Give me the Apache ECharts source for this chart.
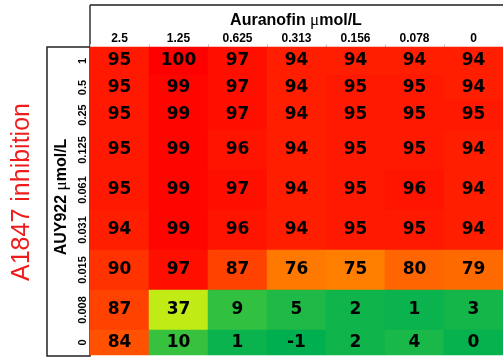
<!DOCTYPE html>
<html>
<head>
<meta charset="utf-8">
<script src="https://cdn.jsdelivr.net/npm/echarts@6/dist/echarts.min.js"></script>
<style>html,body{margin:0;padding:0;background:#fff}#c{width:503px;height:360px}</style>
</head>
<body>
<div id="c"></div>
<script>
// ---- data ----
const colLabels = ['2.5', '1.25', '0.625', '0.313', '0.156', '0.078', '0'];
const rowLabels = ['1', '0.5', '0.25', '0.125', '0.061', '0.031', '0.015', '0.008', '0'];
const row_1     = [95, 100, 97, 94, 94, 94, 94];
const row_0_5   = [95, 99, 97, 94, 95, 95, 94];
const row_0_25  = [95, 99, 97, 94, 95, 95, 95];
const row_0_125 = [95, 99, 96, 94, 95, 95, 94];
const row_0_061 = [95, 99, 97, 94, 95, 96, 94];
const row_0_031 = [94, 99, 96, 94, 95, 95, 94];
const row_0_015 = [90, 97, 87, 76, 75, 80, 79];
const row_0_008 = [87, 37, 9, 5, 2, 1, 3];
const row_0     = [84, 10, 1, -1, 2, 4, 0];
const rows = [row_1, row_0_5, row_0_25, row_0_125, row_0_061, row_0_031, row_0_015, row_0_008, row_0];

// ---- layout (row band heights of the original table) ----
const tableTop = 47;
const rowHeights = [28, 25, 30, 40, 40, 40, 40, 40, 25];

const chart = echarts.init(document.getElementById('c'));
const grids = [], xAxes = [], yAxes = [], seriesList = [];
let bandTop = tableTop;
rows.forEach((row, i) => {
  grids.push({ left: 90, right: -7, top: bandTop, height: rowHeights[i] });
  bandTop += rowHeights[i];
  xAxes.push({
    gridIndex: i, type: 'category', data: colLabels, position: 'top',
    show: i === 0,
    axisLine: { show: false },
    axisTick: { show: true, length: 3, lineStyle: { color: '#ccc' } },
    axisLabel: { margin: 2, fontFamily: 'Liberation Sans', fontWeight: 'bold', fontSize: 12, color: '#000' },
    splitLine: { show: false }
  });
  yAxes.push({
    gridIndex: i, type: 'category', data: [rowLabels[i]],
    axisLine: { show: false }, axisTick: { show: false },
    axisLabel: { rotate: 90, margin: 2, fontFamily: 'Liberation Sans', fontWeight: 'bold', fontSize: 11, color: '#000' },
    splitLine: { show: false }
  });
  seriesList.push({
    type: 'heatmap', xAxisIndex: i, yAxisIndex: i,
    data: row.map((v, j) => [j, 0, v]),
    label: { show: true, fontFamily: 'DejaVu Sans', fontWeight: 'bold', fontSize: 17, color: '#000',
             formatter: p => String(p.value[2]) },
    itemStyle: { borderWidth: 0 },
    emphasis: { disabled: true }
  });
});

chart.setOption({
  animation: false,
  backgroundColor: '#fff',
  grid: grids, xAxis: xAxes, yAxis: yAxes, series: seriesList,
  visualMap: {
    type: 'continuous', show: false, min: -1, max: 100, dimension: 2,
    seriesIndex: rows.map((r, i) => i),
    inRange: { color: ['#00B050', '#FFFF00', '#FF0000'] }
  },
  graphic: [
    { type: 'line', shape: { x1: 90, y1: 5, x2: 503, y2: 5 }, style: { stroke: '#555', lineWidth: 2 } },
    { type: 'line', shape: { x1: 90, y1: 5, x2: 90, y2: 47 }, style: { stroke: '#333', lineWidth: 1.5 } },
    { type: 'rect', shape: { x: 47, y: 47, width: 43, height: 309 }, style: { fill: 'none', stroke: '#222', lineWidth: 1.5 } },
    { type: 'text', x: 296, y: 21, style: {
        text: '{b|Auranofin }{m|μ}{b|mol/L}', align: 'center', verticalAlign: 'middle',
        rich: { b: { fontFamily: 'Liberation Sans', fontWeight: 'bold', fontSize: 16, fill: '#000' },
                m: { fontFamily: 'Liberation Serif', fontSize: 17, fill: '#000' } } } },
    { type: 'text', x: 62, y: 197, rotation: Math.PI / 2, style: {
        text: '{b|AUY922 }{m|μ}{b|mol/L}', align: 'center', verticalAlign: 'middle',
        rich: { b: { fontFamily: 'Liberation Sans', fontWeight: 'bold', fontSize: 16, fill: '#000' },
                m: { fontFamily: 'Liberation Serif', fontSize: 17, fill: '#000' } } } },
    { type: 'text', x: 22, y: 192, rotation: Math.PI / 2, style: {
        text: 'A1847 inhibition', align: 'center', verticalAlign: 'middle',
        fontFamily: 'Liberation Sans', fontSize: 25, fill: '#EE1C1C' } }
  ]
});
</script>
</body>
</html>
